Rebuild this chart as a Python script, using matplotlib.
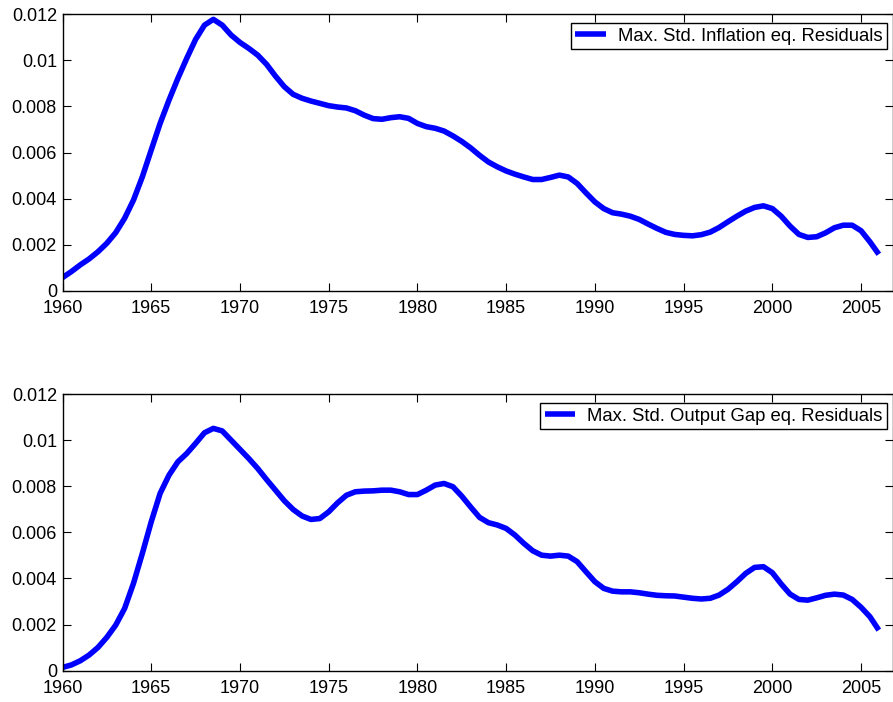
import matplotlib.pyplot as plt

plt.rcParams['font.family'] = ['Liberation Sans', 'DejaVu Sans']
plt.rcParams['font.size'] = 13

# values, every half year
infl_years = [1960.0 + 0.5 * i for i in range(93)]
infl_vals = [
    0.00058, 0.00084, 0.00113, 0.00139, 0.00170, 0.00207, 0.00253, 0.00315, 0.00394, 0.00495,  # 1960-1964.5
    0.00611, 0.00726, 0.00827, 0.00921, 0.01008, 0.01090, 0.01152, 0.01177, 0.01152, 0.01109,  # 1965-1969.5
    0.01077, 0.01051, 0.01022, 0.00982, 0.00931, 0.00885, 0.00852, 0.00835, 0.00823, 0.00813,  # 1970-1974.5
    0.00803, 0.00797, 0.00793, 0.00781, 0.00762, 0.00747, 0.00744, 0.00751, 0.00755, 0.00748,  # 1975-1979.5
    0.00726, 0.00712, 0.00705, 0.00693, 0.00672, 0.00648, 0.00620, 0.00588, 0.00559, 0.00538,  # 1980-1984.5
    0.00520, 0.00506, 0.00494, 0.00483, 0.00483, 0.00492, 0.00502, 0.00494, 0.00466, 0.00425,  # 1985-1989.5
    0.00386, 0.00357, 0.00339, 0.00333, 0.00324, 0.00310, 0.00290, 0.00271, 0.00254, 0.00245,  # 1990-1994.5
    0.00241, 0.00239, 0.00244, 0.00255, 0.00275, 0.00300, 0.00324, 0.00346, 0.00362, 0.00369,  # 1995-1999.5
    0.00357, 0.00324, 0.00281, 0.00245, 0.00232, 0.00235, 0.00252, 0.00274, 0.00285, 0.00285,  # 2000-2004.5
    0.00261, 0.00213, 0.00159,                                                                 # 2005-2006
]

gap_years = [1960.0 + 0.5 * i for i in range(93)]
gap_vals = [
    0.00014, 0.00025, 0.00043, 0.00068, 0.00101, 0.00145, 0.00198, 0.00270, 0.00379, 0.00509,  # 1960-1964.5
    0.00646, 0.00769, 0.00848, 0.00906, 0.00942, 0.00986, 0.01032, 0.01051, 0.01040, 0.01000,  # 1965-1969.5
    0.00960, 0.00920, 0.00877, 0.00829, 0.00783, 0.00737, 0.00699, 0.00671, 0.00656, 0.00660,  # 1970-1974.5
    0.00689, 0.00728, 0.00761, 0.00776, 0.00779, 0.00780, 0.00783, 0.00783, 0.00776, 0.00764,  # 1975-1979.5
    0.00764, 0.00783, 0.00805, 0.00812, 0.00798, 0.00757, 0.00710, 0.00665, 0.00642, 0.00632,  # 1980-1984.5
    0.00617, 0.00588, 0.00552, 0.00520, 0.00501, 0.00497, 0.00501, 0.00497, 0.00473, 0.00429,  # 1985-1989.5
    0.00386, 0.00357, 0.00345, 0.00342, 0.00342, 0.00338, 0.00332, 0.00327, 0.00325, 0.00324,  # 1990-1994.5
    0.00319, 0.00314, 0.00311, 0.00314, 0.00328, 0.00353, 0.00386, 0.00422, 0.00448, 0.00451,  # 1995-1999.5
    0.00425, 0.00376, 0.00332, 0.00309, 0.00306, 0.00316, 0.00327, 0.00332, 0.00328, 0.00309,  # 2000-2004.5
    0.00275, 0.00234, 0.00176,                                                                 # 2005-2006
]

x_ticks = [1960, 1965, 1970, 1975, 1980, 1985, 1990, 1995, 2000, 2005]
y_ticks = [0, 0.002, 0.004, 0.006, 0.008, 0.01, 0.012]
y_labels = ['0', '0.002', '0.004', '0.006', '0.008', '0.01', '0.012']

fig = plt.figure(figsize=(8.93, 7.02), dpi=100)
ax_a = fig.add_axes([0.0700, 0.5855, 0.9300, 0.3945])
ax_b = fig.add_axes([0.0700, 0.0446, 0.9300, 0.3941])

panels = [
    (ax_a, infl_years, infl_vals, 'Max. Std. Inflation eq. Residuals'),
    (ax_b, gap_years, gap_vals, 'Max. Std. Output Gap eq. Residuals'),
]

for ax, xs, ys, label in panels:
    ax.plot(xs, ys, color='#0000ff', linewidth=4.0, label=label,
            solid_capstyle='butt', solid_joinstyle='round')
    ax.set_xlim(1960, 2006.8)
    ax.set_ylim(0, 0.012)
    ax.set_xticks(x_ticks)
    ax.set_yticks(y_ticks)
    ax.set_yticklabels(y_labels)
    ax.tick_params(direction='in', length=6, width=0.8, top=True, right=True, labelsize=13)
    ax.tick_params(axis='x', pad=6.5)
    ax.tick_params(axis='y', pad=4)
    for sp in ax.spines.values():
        sp.set_linewidth(1.0)
    leg = ax.legend(loc='upper right', bbox_to_anchor=(0.993, 0.9675), borderaxespad=0,
                    fancybox=False, edgecolor='black', framealpha=1, handlelength=1.65,
                    handletextpad=0.65, borderpad=0.25, fontsize=13.3)
    leg.get_frame().set_linewidth(1.0)

fig.savefig('out.png', dpi=100)
